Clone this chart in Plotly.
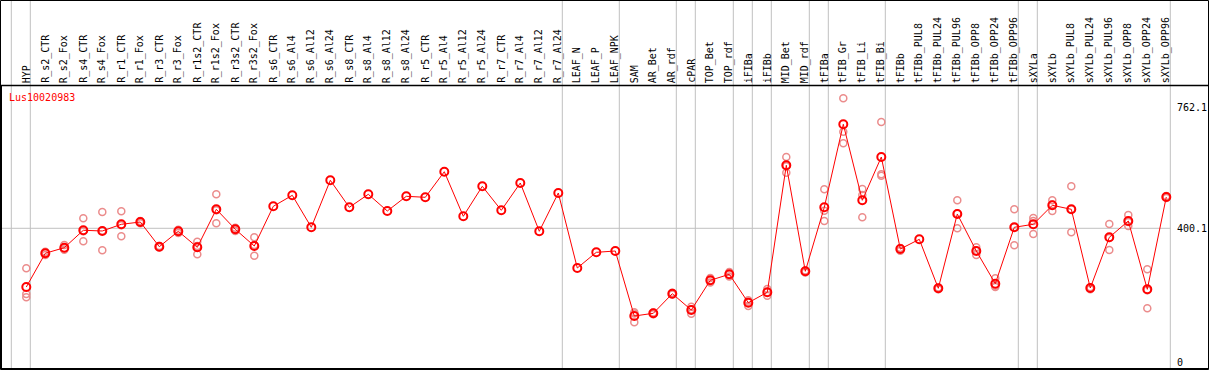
import plotly.graph_objects as go

categories = ["HYP", "R_s2_CTR", "R_s2_Fox", "R_s4_CTR", "R_s4_Fox", "R_r1_CTR", "R_r1_Fox",
              "R_r3_CTR", "R_r3_Fox", "R_r1s2_CTR", "R_r1s2_Fox", "R_r3s2_CTR", "R_r3s2_Fox",
              "R_s6_CTR", "R_s6_Al4", "R_s6_Al12", "R_s6_Al24", "R_s8_CTR", "R_s8_Al4", "R_s8_Al12",
              "R_s8_Al24", "R_r5_CTR", "R_r5_Al4", "R_r5_Al12", "R_r5_Al24", "R_r7_CTR", "R_r7_Al4",
              "R_r7_Al12", "R_r7_Al24", "LEAF_N", "LEAF_P", "LEAF_NPK", "SAM", "AR_Bet", "AR_rdf",
              "cPAR", "TOP_Bet", "TOP_rdf", "iFIBa", "iFIBb", "MID_Bet", "MID_rdf", "tFIBa",
              "tFIB_Gr", "tFIB_Li", "tFIB_Bi", "tFIBb", "tFIBb_PUL8", "tFIBb_PUL24", "tFIBb_PUL96",
              "tFIBb_OPP8", "tFIBb_OPP24", "tFIBb_OPP96", "sXYLa", "sXYLb", "sXYLb_PUL8",
              "sXYLb_PUL24", "sXYLb_PUL96", "sXYLb_OPP8", "sXYLb_OPP24", "sXYLb_OPP96"]

group_sizes = [1, 28, 3, 3, 1, 2, 1, 1, 2, 1, 3, 7, 1, 7]

mean_values = [224.4, 325.3, 342.0, 394.1, 392.0, 412.0, 418.9, 345.0, 391.1, 343.2,
               456.9, 397.1, 347.1, 465.9, 498.8, 403.1, 543.7, 462.9, 501.8, 451.8,
               495.8, 492.8, 569.4, 436.0, 525.7, 453.9, 535.6, 391.1, 505.7, 281.3,
               328.2, 332.1, 137.6, 145.7, 204.4, 155.6, 244.5, 262.4, 177.4, 208.6,
               588.6, 271.4, 462.9, 711.3, 483.8, 613.4, 338.1, 367.1, 220.5, 442.8,
               332.1, 234.3, 403.1, 412.0, 468.9, 456.9, 221.4, 373.1, 421.9, 217.5,
               493.7]

N = None
rep_a = [280.4, 320, 350, 430.0, 448.8, 450.9, 415, 343, 386, 360.0,
         501.8, 392, 373.1, N, N, N, N, N, N, N,
         N, N, N, N, N, N, N, N, N, N,
         N, N, 118.8, 143, 202, 144.5, 251.3, 269.3, 167.6, 218.4,
         613.4, 268, 516.8, 789.1, 517.7, 718.1, 341, N, 218, 483.8,
         343.2, 250.4, 456.9, 430.9, 483.8, 525.7, 218, 412.9, 439.9, 277.4,
         497]
rep_b = [203.5, 326, 340, 361.2, 334.2, 376.1, 420, 345, 391, 322.3,
         415.0, 397, 318.1, N, N, N, N, N, N, N,
         N, N, N, N, N, N, N, N, N, N,
         N, N, 145, 146, 204, 157, 238, 256, 180, 198.4,
         566.4, 272, 452.7, 689.1, 499.7, 561.6, 333, N, 221, 400.1,
         320.2, 224.4, 349.2, 383.0, 451.8, 388.1, 222, 335.1, 407.0, 160.7,
         493]
rep_c = [193.6, 330, 336, 391.1, 393.0, 409.0, 422, 347, 396, 347.3,
         453.9, 402, 350.1, N, N, N, N, N, N, N,
         N, N, N, N, N, N, N, N, N, N,
         N, N, 149, 148, 207, 165, 244, 262, 185, 209,
         586, 274, 421.9, 654.4, 433.0, 557.4, 340, N, 223, 444.5,
         333, 228, 403, 422.1, 471, 456.9, 224, 371.3, 418.8, 214.4,
         491]

ytick_vals = [0, 400.1, 762.1]
ytick_text = ["0", "400.1", "762.1"]
gene_name = "Lus10020983"

# ---- layout geometry (pixels) ----
W, H = 1209, 370
X0_PX, DX_PX = 26.3, 19.0          # pixel of first category and spacing
Y0_PX, PX_PER_UNIT = 362.0, 0.3342  # pixel of value 0 and scale
FONT = "DejaVu Sans Mono"

x_range = [(0 - X0_PX) / DX_PX, (W - X0_PX) / DX_PX]
y_range = [(Y0_PX - H) / PX_PER_UNIT, Y0_PX / PX_PER_UNIT]

def px_to_x(px):
    return (px - X0_PX) / DX_PX

def pfy(py):
    return 1 - py / H

xs = list(range(len(categories)))
rx, ry = [], []
for arr in (rep_a, rep_b, rep_c):
    for i, v in enumerate(arr):
        if v is not None:
            rx.append(i)
            ry.append(v)

fig = go.Figure()
fig.add_trace(go.Scatter(x=rx, y=ry, mode="markers", hoverinfo="skip",
                         marker=dict(symbol="circle-open", size=7, color="#eb8c8c",
                                     line=dict(width=1.5, color="#eb8c8c"))))
fig.add_trace(go.Scatter(x=xs, y=mean_values, mode="lines+markers",
                         line=dict(color="#ff0000", width=1),
                         marker=dict(symbol="circle-open", size=8, color="#ff0000",
                                     line=dict(width=2, color="#ff0000"))))

shapes = []
# group separators
bounds = [-1]
c = -1
for g in group_sizes:
    c += g
    bounds.append(c)
off = 4.0 / DX_PX
for b in bounds:
    shapes.append(dict(type="line", xref="x", yref="paper", x0=b + off, x1=b + off,
                       y0=0, y1=1, line=dict(color="#c0c0c0", width=1), layer="below"))
# reference gridline
shapes.append(dict(type="line", xref="x", yref="y", x0=x_range[0], x1=bounds[-1] + off,
                   y0=ytick_vals[1], y1=ytick_vals[1], line=dict(color="#c0c0c0", width=1),
                   layer="below"))
# frame lines
shapes.append(dict(type="rect", xref="paper", yref="paper", x0=0.5 / W, x1=1 - 0.5 / W,
                   y0=pfy(369.5), y1=pfy(0.5), line=dict(color="black", width=1)))
shapes.append(dict(type="line", xref="paper", yref="paper", x0=1.5 / W, x1=1.5 / W,
                   y0=pfy(369), y1=pfy(85), line=dict(color="black", width=1)))
shapes.append(dict(type="line", xref="paper", yref="paper", x0=0, x1=1,
                   y0=pfy(368.5), y1=pfy(368.5), line=dict(color="black", width=1)))
shapes.append(dict(type="line", xref="paper", yref="paper", x0=0, x1=1,
                   y0=pfy(85.5), y1=pfy(85.5), line=dict(color="black", width=1.5)))

annotations = []
for i, name in enumerate(categories):
    annotations.append(dict(x=i, xref="x", y=pfy(84), yref="paper", text=name,
                            showarrow=False, textangle=-90, xanchor="center", yanchor="bottom",
                            font=dict(family=FONT, size=10, color="black"), borderpad=0))
annotations.append(dict(x=8 / W, xref="paper", y=pfy(97), yref="paper", text=gene_name,
                        showarrow=False, xanchor="left", yanchor="middle",
                        font=dict(family=FONT, size=10, color="#ff0000"), borderpad=0))
for v, t in zip(ytick_vals, ytick_text):
    annotations.append(dict(x=px_to_x(1176), xref="x", y=v, yref="y", text=t,
                            showarrow=False, xanchor="left", yanchor="middle",
                            font=dict(family=FONT, size=10, color="black"), borderpad=0))

fig.update_layout(
    width=W, height=H, margin=dict(l=0, r=0, t=0, b=0),
    paper_bgcolor="white", plot_bgcolor="white", showlegend=False,
    xaxis=dict(range=x_range, visible=False, fixedrange=True),
    yaxis=dict(range=y_range, visible=False, fixedrange=True),
    shapes=shapes, annotations=annotations,
)
fig.write_html("out.html", config={"displayModeBar": False},
               post_script="document.body.style.margin='0px';document.body.style.overflow='hidden';")
